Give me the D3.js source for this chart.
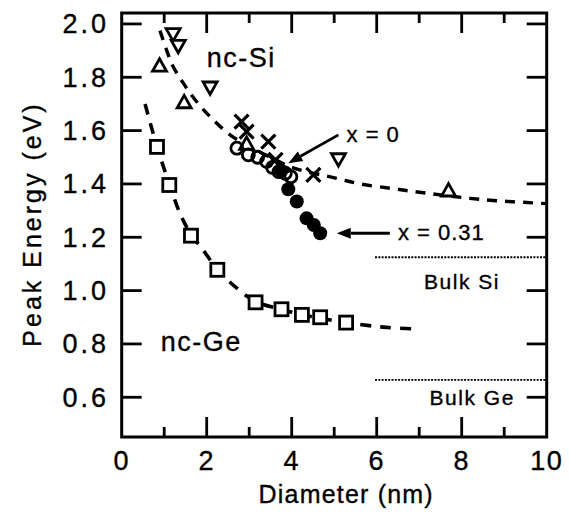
<!DOCTYPE html>
<html><head><meta charset="utf-8">
<script src="https://cdn.jsdelivr.net/npm/d3@7"></script>
<style>
html,body{margin:0;padding:0;background:#fff;}
text{font-family:"Liberation Sans",Arial,Helvetica,sans-serif;fill:#000;stroke:#000;stroke-width:0.35px;}
</style></head>
<body><svg id="c" width="569" height="514"></svg>
<script>
// ---- data ----
const xTicksMajor = [0, 2, 4, 6, 8, 10];
const xTicksMinor = [1, 3, 5, 7, 9];
const yTicks = [0.6, 0.8, 1.0, 1.2, 1.4, 1.6, 1.8, 2.0];

const geSquareX = [0.83, 1.12, 1.63, 2.25, 3.15, 3.76, 4.24, 4.67, 5.28];
const geSquareY = [1.539, 1.396, 1.206, 1.078, 0.956, 0.930, 0.909, 0.900, 0.880];

const siTriUpX = [0.89, 1.47, 2.94, 7.69];
const siTriUpY = [1.846, 1.709, 1.553, 1.378];

const siTriDownX = [1.21, 1.33, 2.08, 5.10];
const siTriDownY = [1.959, 1.915, 1.759, 1.490];

const siCrossX = [2.82, 2.94, 3.45, 3.62, 4.51];
const siCrossY = [1.634, 1.596, 1.559, 1.49, 1.434];

const x0CircleX = [2.71, 2.98, 3.20, 3.41, 3.55, 3.70, 3.85, 3.98];
const x0CircleY = [1.534, 1.509, 1.500, 1.484, 1.462, 1.446, 1.440, 1.427];

const x31DotX = [3.75, 3.92, 4.12, 4.35, 4.52, 4.67];
const x31DotY = [1.450, 1.380, 1.334, 1.271, 1.246, 1.215];

const siFitX = [0.9, 1.06, 1.21, 1.45, 1.76, 2.12, 2.55, 3.0, 3.5, 4.04, 5.06, 5.61, 6.31, 6.9, 8.19, 8.82, 9.68, 10];
const siFitY = [1.975, 1.90, 1.84, 1.778, 1.709, 1.646, 1.584, 1.54, 1.50, 1.46, 1.421, 1.40, 1.384, 1.371, 1.346, 1.337, 1.329, 1.326];

const geFitX = [0.55, 0.83, 1.12, 1.37, 1.63, 1.88, 2.25, 2.63, 3.14, 3.76, 4.24, 5.28, 6.23, 7.02];
const geFitY = [1.70, 1.54, 1.40, 1.29, 1.21, 1.16, 1.08, 1.02, 0.96, 0.93, 0.91, 0.88, 0.862, 0.856];

const bulkNames = ["Bulk Si", "Bulk Ge"];
const bulkEnergy = [1.125, 0.665];
const bulkFrom = [5.96, 5.96];

// ---- layout ----
const svg = d3.select("#c");
const L = 121.7, R = 546.7, T = 13, B = 437;
const x = d3.scaleLinear().domain([0, 10]).range([L, R]);
const y = d3.scaleLinear().domain([0.451, 2.041]).range([B, T]);
const zip = (a, b) => a.map((v, i) => [v, b[i]]);

// curves
const line = d3.line().x(d => x(d[0])).y(d => y(d[1])).curve(d3.curveCatmullRom.alpha(0.5));
svg.append("path").attr("d", line(zip(siFitX, siFitY)))
  .attr("fill", "none").attr("stroke", "#000").attr("stroke-width", 3.4).attr("stroke-dasharray", "10,8");
svg.append("path").attr("d", line(zip(geFitX, geFitY)))
  .attr("fill", "none").attr("stroke", "#000").attr("stroke-width", 3.6).attr("stroke-dasharray", "11,9");

// bulk lines
bulkEnergy.forEach((e, i) => {
  svg.append("line").attr("x1", x(bulkFrom[i])).attr("x2", x(10)).attr("y1", y(e)).attr("y2", y(e))
    .attr("stroke", "#000").attr("stroke-width", 1.8).attr("stroke-dasharray", "2,1.3");
});

// axes frame + ticks
const g = svg.append("g");
const ax = (sel) => sel.attr("stroke", "#000").attr("stroke-width", 2.8);
g.append("rect").attr("x", L).attr("y", T).attr("width", R - L).attr("height", B - T)
  .attr("fill", "none").attr("stroke", "#000").attr("stroke-width", 3);
xTicksMajor.filter(v => v > 0 && v < 10).forEach(v => {
  ax(g.append("line").attr("x1", x(v)).attr("x2", x(v)).attr("y1", B).attr("y2", B - 20));
  ax(g.append("line").attr("x1", x(v)).attr("x2", x(v)).attr("y1", T).attr("y2", T + 20));
});
xTicksMinor.forEach(v => {
  ax(g.append("line").attr("x1", x(v)).attr("x2", x(v)).attr("y1", B).attr("y2", B - 10));
  ax(g.append("line").attr("x1", x(v)).attr("x2", x(v)).attr("y1", T).attr("y2", T + 10));
});
yTicks.forEach(v => {
  ax(g.append("line").attr("x1", L).attr("x2", L + 20).attr("y1", y(v)).attr("y2", y(v)));
  ax(g.append("line").attr("x1", R).attr("x2", R - 20).attr("y1", y(v)).attr("y2", y(v)));
});
// tick labels
xTicksMajor.forEach(v => {
  g.append("text").attr("x", x(v)).attr("y", 470).attr("text-anchor", "middle")
    .attr("font-size", 27).attr("letter-spacing", 1.5).text(v);
});
yTicks.forEach(v => {
  g.append("text").attr("x", 109).attr("y", y(v) + 9.5).attr("text-anchor", "end")
    .attr("font-size", 27).attr("letter-spacing", 3).text(v.toFixed(1));
});
g.append("text").attr("x", (L + R) / 2 + 12).attr("y", 503).attr("text-anchor", "middle")
  .attr("font-size", 25).attr("letter-spacing", 1.2).text("Diameter (nm)");
g.append("text").attr("transform", "translate(41,224) rotate(-90)").attr("text-anchor", "middle")
  .attr("font-size", 25).attr("letter-spacing", 3).text("Peak Energy (eV)");

// markers
const mk = svg.append("g").attr("stroke", "#000").attr("stroke-width", 2.8);
zip(geSquareX, geSquareY).forEach(d => {
  mk.append("rect").attr("x", x(d[0]) - 6.5).attr("y", y(d[1]) - 6.5).attr("width", 13).attr("height", 13).attr("fill", "#fff");
});
const tri = (cx, cy, up) => {
  const s = 7, h = 6.2;
  return up ? `M${cx},${cy - h}L${cx + s},${cy + h}L${cx - s},${cy + h}Z`
            : `M${cx},${cy + h}L${cx + s},${cy - h}L${cx - s},${cy - h}Z`;
};
zip(siTriUpX, siTriUpY).forEach(d => mk.append("path").attr("d", tri(x(d[0]), y(d[1]), true)).attr("fill", "#fff"));
zip(siTriDownX, siTriDownY).forEach(d => mk.append("path").attr("d", tri(x(d[0]), y(d[1]), false)).attr("fill", "#fff"));
zip(x0CircleX, x0CircleY).forEach(d => mk.append("circle").attr("cx", x(d[0])).attr("cy", y(d[1])).attr("r", 6).attr("fill", "none"));
zip(siCrossX, siCrossY).forEach(d => {
  const cx = x(d[0]), cy = y(d[1]), s = 7;
  mk.append("path").attr("d", `M${cx - s},${cy - s}L${cx + s},${cy + s}M${cx - s},${cy + s}L${cx + s},${cy - s}`).attr("stroke-width", 3.2);
});
zip(x31DotX, x31DotY).forEach(d => mk.append("circle").attr("cx", x(d[0])).attr("cy", y(d[1])).attr("r", 7).attr("fill", "#000").attr("stroke", "none"));

// labels
const lab = svg.append("g");
lab.append("text").attr("x", x(2.0)).attr("y", y(1.839)).attr("font-size", 27).attr("letter-spacing", 1.5).text("nc-Si");
lab.append("text").attr("x", x(0.92)).attr("y", y(0.775)).attr("font-size", 27).attr("letter-spacing", 1.5).text("nc-Ge");
lab.append("text").attr("x", x(8.9)).attr("y", y(1.006)).attr("text-anchor", "end").attr("font-size", 21).attr("letter-spacing", 1.5).text(bulkNames[0]);
lab.append("text").attr("x", x(9.25)).attr("y", y(0.571)).attr("text-anchor", "end").attr("font-size", 21).attr("letter-spacing", 1.5).text(bulkNames[1]);
lab.append("text").attr("x", x(5.29)).attr("y", y(1.559)).attr("font-size", 22).attr("letter-spacing", 1).text("x = 0");
lab.append("text").attr("x", x(6.50)).attr("y", y(1.19)).attr("font-size", 22).attr("letter-spacing", 1).text("x = 0.31");

// arrows
const arrow = (x1, y1, x2, y2) => {
  const X1 = x(x1), Y1 = y(y1), X2 = x(x2), Y2 = y(y2);
  const a = Math.atan2(Y2 - Y1, X2 - X1), hl = 14, hw = 5.5;
  const bx = X2 - hl * Math.cos(a), by = Y2 - hl * Math.sin(a);
  lab.append("line").attr("x1", X1).attr("y1", Y1).attr("x2", bx).attr("y2", by).attr("stroke", "#000").attr("stroke-width", 2.8);
  lab.append("path").attr("d", `M${X2},${Y2}L${bx - hw * Math.sin(a)},${by + hw * Math.cos(a)}L${bx + hw * Math.sin(a)},${by - hw * Math.cos(a)}Z`).attr("fill", "#000");
};
arrow(5.10, 1.584, 3.92, 1.478);
arrow(6.31, 1.215, 5.06, 1.215);
</script></body></html>
